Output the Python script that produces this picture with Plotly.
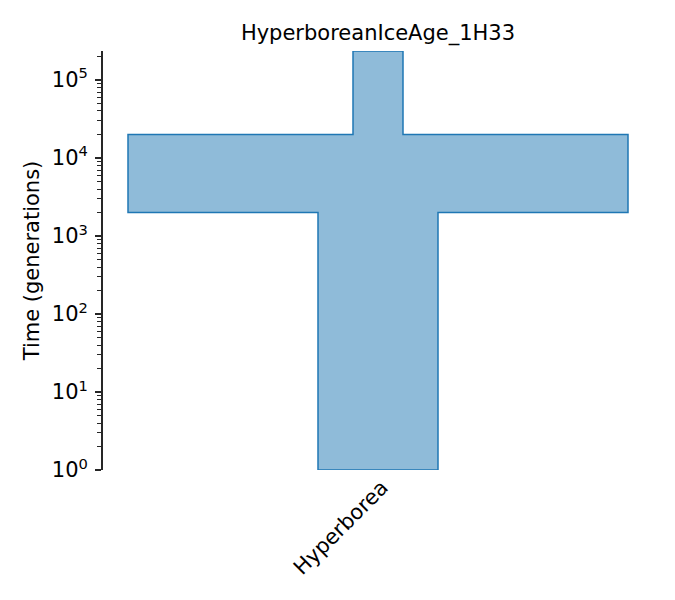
import plotly.graph_objects as go

# deme "Hyperborea": epochs from oldest to youngest
deme_name = "Hyperborea"
epoch_start_times = [235000, 20000, 2000]
epoch_end_times = [20000, 2000, 1]
epoch_sizes = [5000, 50000, 12000]

ytick_vals = [1, 10, 100, 1000, 10000, 100000]
ytick_text = ["10<sup>%d</sup>" % i for i in range(6)]
minor_vals = [m * 10 ** k for k in range(6) for m in range(2, 10) if m * 10 ** k < 235000]

# build the tube outline: right side going down, left side going back up
right_x, right_y = [], []
for start, end, size in zip(epoch_start_times, epoch_end_times, epoch_sizes):
    right_x += [size / 2, size / 2]
    right_y += [start, end]
left_x = [-x for x in reversed(right_x)]
left_y = list(reversed(right_y))
poly_x = right_x + left_x + [right_x[0]]
poly_y = right_y + left_y + [right_y[0]]

fig = go.Figure()
fig.add_trace(go.Scatter(
    x=poly_x, y=poly_y,
    mode="lines",
    fill="toself",
    fillcolor="#8fbbd9",
    line=dict(color="#1f77b4", width=1.5),
    hoverinfo="skip",
    showlegend=False,
))

font = "DejaVu Sans, sans-serif"
fig.update_layout(
    width=675, height=600,
    margin=dict(l=95, r=30, t=43, b=138),
    plot_bgcolor="white",
    paper_bgcolor="white",
    font=dict(family=font, color="black"),
    title=dict(text="HyperboreanIceAge_1H33", xref="paper", x=0.5, xanchor="center",
               y=1 - 25 / 600, yanchor="middle", font=dict(size=21)),
    xaxis=dict(
        range=[-27500, 27500],
        tickvals=[0], ticktext=[deme_name],
        tickangle=-45, tickfont=dict(size=21),
        ticklabelshift=4,
        showgrid=False, zeroline=False, showline=False, ticks="",
    ),
    yaxis=dict(
        type="log",
        range=[0, 5.371],
        tickvals=ytick_vals, ticktext=ytick_text,
        tickfont=dict(size=21),
        ticks="outside", ticklen=6, tickwidth=1.8, tickcolor="#262626",
        ticklabelstandoff=3,
        showline=True, linecolor="#262626", linewidth=1.8,
        showgrid=False, zeroline=False,
        minor=dict(tickvals=minor_vals, ticks="outside", ticklen=4,
                   tickwidth=1.2, tickcolor="#262626", showgrid=False),
        title=dict(text="Time (generations)", font=dict(size=21), standoff=6),
    ),
)

fig.write_html("out.html")
